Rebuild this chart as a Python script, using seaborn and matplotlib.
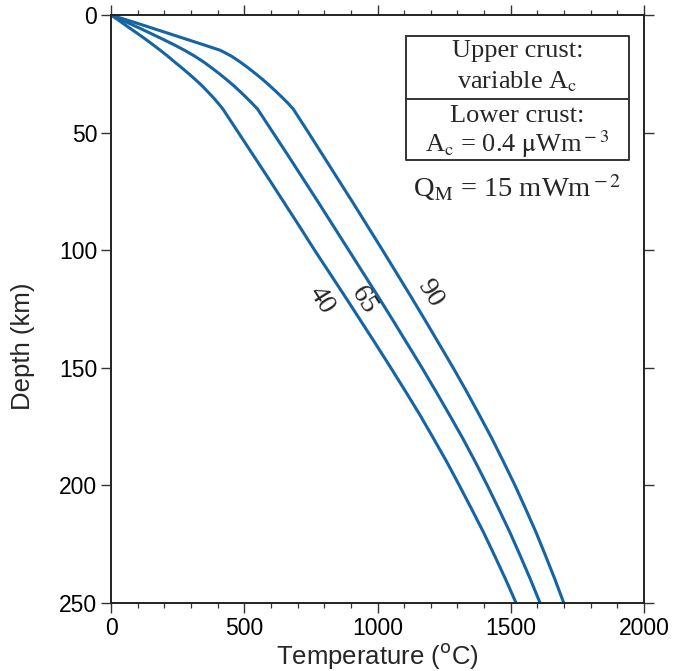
import numpy as np
import pandas as pd
import matplotlib
matplotlib.use("Agg")
import matplotlib.pyplot as plt
import seaborn as sns

# ---- data (depth in km, temperature in degC) ----
depth_km = [0, 2.5, 5, 7.5, 10, 12.5, 15, 17.5, 20, 22.5, 25, 27.5, 30, 32.5, 35, 37.5, 40,
            50, 60, 70, 80, 90, 100, 110, 120, 130, 140, 150, 160, 170, 180, 190, 200,
            210, 220, 230, 240, 250]
temp_40 = [0, 32, 63, 95, 126, 156, 185, 213, 239, 266, 292, 317, 341, 362, 383, 402, 420,
           478, 536, 594, 651, 708, 764, 822, 880, 937, 994, 1050, 1105, 1159, 1210, 1260, 1307,
           1353, 1398, 1440, 1481, 1520]
temp_65 = [0, 48, 96, 143, 189, 234, 276, 314, 348, 378, 407, 434, 460, 484, 507, 529, 550,
           608, 666, 723, 780, 836, 892, 948, 1004, 1059, 1113, 1167, 1219, 1270, 1320, 1367, 1412,
           1455, 1497, 1536, 1574, 1610]
temp_90 = [0, 70, 139, 207, 275, 343, 410, 452, 485, 515, 543, 570, 595, 619, 642, 664, 684,
           741, 797, 853, 909, 964, 1019, 1073, 1127, 1180, 1232, 1284, 1334, 1382, 1429, 1473, 1516,
           1556, 1595, 1631, 1666, 1699]
curve_names = ["40", "65", "90"]
label_T = [789, 947, 1196]
label_z = [121.4, 121.4, 118.4]
x_ticks = [0, 500, 1000, 1500, 2000]
y_ticks = [0, 50, 100, 150, 200, 250]

df = pd.concat([
    pd.DataFrame({"T": t, "z": depth_km, "curve": n})
    for n, t in zip(curve_names, [temp_40, temp_65, temp_90])
])

sns.set_theme(style="ticks")
plt.rcParams["font.family"] = ["Liberation Sans", "DejaVu Sans"]

line_color = "#1565a5"
fig = plt.figure(figsize=(6.74, 6.71), dpi=100)
ax = fig.add_axes([111 / 674, 1 - 603 / 671, (644 - 111) / 674, (603 - 15) / 671])

sns.lineplot(data=df, x="T", y="z", units="curve", estimator=None, sort=False,
             color=line_color, linewidth=2.2, ax=ax, legend=False)

ax.set_xlim(0, 2000)
ax.set_ylim(250, 0)
ax.set_xticks(x_ticks)
ax.set_yticks(y_ticks)
ax.set_xticks(np.arange(0, 2001, 100), minor=True)
ax.tick_params(axis="both", which="major", direction="out", length=7, width=1.0,
               colors="#333333", labelsize=16.5, labelcolor="black",
               top=True, right=True, pad=3)
ax.tick_params(axis="x", which="minor", direction="out", length=3.5, width=0.9,
               colors="#333333", top=True, bottom=True)
for s in ax.spines.values():
    s.set_visible(True)
    s.set_linewidth(1.4)
    s.set_color("#222222")

ax.set_xlabel("Temperature ($^{\\rm o}$C)", fontsize=18.5, labelpad=1)
ax.set_ylabel("Depth (km)", fontsize=18.5)
ax.yaxis.set_label_coords(-0.142, 0.437)

# curve labels
for n, tx, tz in zip(curve_names, label_T, label_z):
    ax.text(tx, tz, n, rotation=-58, ha="center", va="center",
            fontsize=20, family="Liberation Serif", rotation_mode="anchor")

# annotation box
serif = "Liberation Serif"
bx0, bx1 = 0.5535, 0.9719
by_top, by_mid, by_bot = 0.9648, 0.8566, 0.7534
ax.plot([bx0, bx1, bx1, bx0, bx0], [by_top, by_top, by_bot, by_bot, by_top],
        transform=ax.transAxes, color="#333333", lw=1.4, clip_on=False)
ax.plot([bx0, bx1], [by_mid, by_mid], transform=ax.transAxes, color="#333333", lw=1.4)
cx = (bx0 + bx1) / 2
box_fs = 19
ax.text(cx, 0.9281, "Upper crust:", transform=ax.transAxes, ha="center", va="baseline",
        fontsize=box_fs, family=serif)
ax.text(cx, 0.8753, "variable A$_{\\rm c}$", transform=ax.transAxes, ha="center", va="baseline",
        fontsize=box_fs, family=serif, math_fontfamily="stix")
ax.text(cx, 0.8185, "Lower crust:", transform=ax.transAxes, ha="center", va="baseline",
        fontsize=box_fs, family=serif)
ax.text(cx, 0.7675, "A$_{\\rm c}$ = 0.4 $\\mathrm{\\mu}$Wm$^{\\rm -3}$", transform=ax.transAxes,
        ha="center", va="baseline", fontsize=box_fs, family=serif, math_fontfamily="stix")
ax.text(cx, 0.6910, "Q$_{\\rm M}$ = 15 mWm$^{\\rm -2}$", transform=ax.transAxes,
        ha="center", va="baseline", fontsize=20.5, family=serif, math_fontfamily="stix")

fig.savefig("out.png", dpi=100)
